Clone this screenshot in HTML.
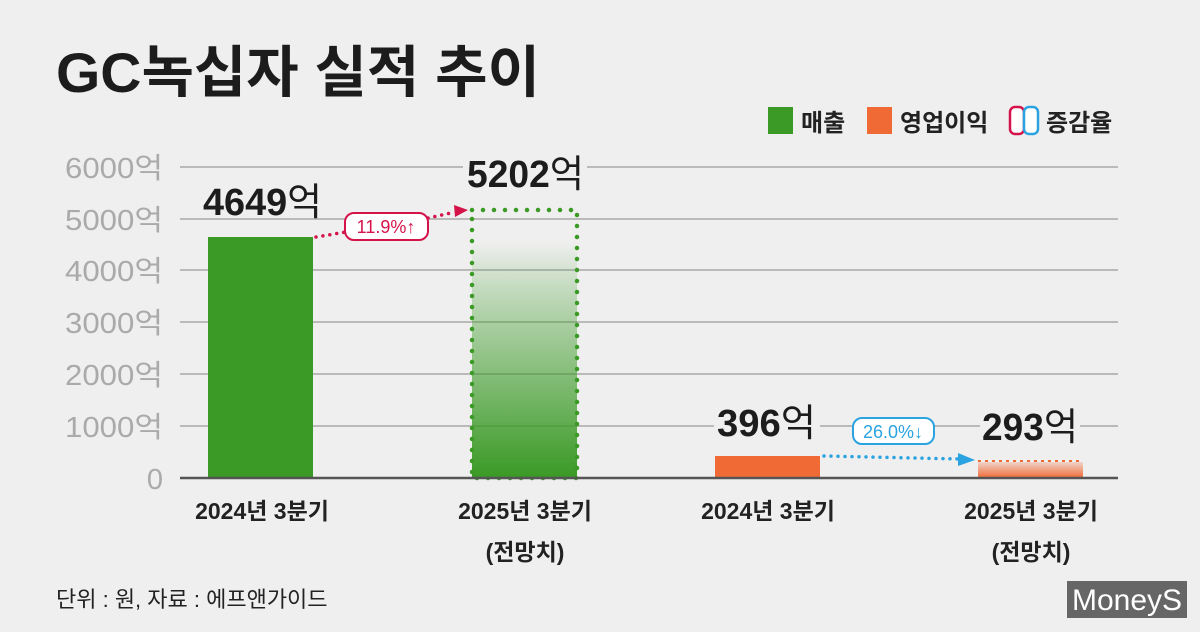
<!DOCTYPE html>
<html><head><meta charset="utf-8"><style>
html,body{margin:0;padding:0;background:#efefef;}
svg{display:block;font-family:"Liberation Sans","Noto Sans CJK KR",sans-serif;}
</style></head><body>
<svg width="1200" height="632" viewBox="0 0 1200 632">
<defs>
<linearGradient id="g1" x1="0" y1="0" x2="0" y2="1">
<stop offset="0" stop-color="#3a9a25" stop-opacity="0"/>
<stop offset="0.12" stop-color="#3a9a25" stop-opacity="0"/>
<stop offset="0.3" stop-color="#3a9a25" stop-opacity="0.25"/>
<stop offset="1" stop-color="#3a9a25" stop-opacity="1"/>
</linearGradient>
<linearGradient id="g2" x1="0" y1="0" x2="0" y2="1">
<stop offset="0" stop-color="#f06a35" stop-opacity="0.2"/>
<stop offset="1" stop-color="#f06a35" stop-opacity="1"/>
</linearGradient>
</defs>
<rect width="1200" height="632" fill="#efefef"/>
<text x="56" y="92" font-size="56" font-weight="bold" fill="#1c1c1c" textLength="484" lengthAdjust="spacingAndGlyphs">GC녹십자 실적 추이</text>
<!-- legend -->
<rect x="768" y="107" width="25" height="27" fill="#3a9a25"/>
<text x="801" y="131" font-size="24" font-weight="bold" fill="#222">매출</text>
<rect x="867" y="107" width="25" height="27" fill="#f06a35"/>
<text x="900" y="131" font-size="24" font-weight="bold" fill="#222">영업이익</text>
<rect x="1010" y="107" width="14" height="27" rx="5" fill="#fff" stroke="#d4134a" stroke-width="2.5"/>
<rect x="1024" y="107" width="14" height="27" rx="5" fill="#fff" stroke="#2aa3e0" stroke-width="2.5"/>
<text x="1046" y="131" font-size="24" font-weight="bold" fill="#222">증감율</text>
<!-- grid -->
<g stroke="#a8a8a8" stroke-width="1.5">
<line x1="180" y1="167" x2="1118" y2="167"/>
<line x1="180" y1="219" x2="1118" y2="219"/>
<line x1="180" y1="270" x2="1118" y2="270"/>
<line x1="180" y1="322" x2="1118" y2="322"/>
<line x1="180" y1="374" x2="1118" y2="374"/>
<line x1="180" y1="426" x2="1118" y2="426"/>
</g>
<g font-size="29" fill="#aaa" text-anchor="end">
<text x="163" y="178" textLength="98" lengthAdjust="spacingAndGlyphs">6000억</text>
<text x="163" y="230" textLength="98" lengthAdjust="spacingAndGlyphs">5000억</text>
<text x="163" y="281" textLength="98" lengthAdjust="spacingAndGlyphs">4000억</text>
<text x="163" y="333" textLength="98" lengthAdjust="spacingAndGlyphs">3000억</text>
<text x="163" y="385" textLength="98" lengthAdjust="spacingAndGlyphs">2000억</text>
<text x="163" y="437" textLength="98" lengthAdjust="spacingAndGlyphs">1000억</text>
<text x="163" y="489">0</text>
</g>
<!-- bars -->
<rect x="208" y="237" width="105" height="241" fill="#3a9a25"/>
<rect x="472" y="210" width="105" height="268" fill="url(#g1)"/>
<rect x="472" y="210" width="105" height="268" fill="none" stroke="#3a9a25" stroke-width="4.5" stroke-dasharray="0 11" stroke-linecap="round"/>
<rect x="715" y="456" width="105" height="22" fill="#f06a35"/>
<rect x="978" y="462" width="105" height="16" fill="url(#g2)"/>
<line x1="978" y1="461" x2="1083" y2="461" stroke="#f06a35" stroke-width="2" stroke-dasharray="3 4"/>
<line x1="180" y1="478" x2="1118" y2="478" stroke="#555" stroke-width="2.5"/>
<!-- arrows -->
<polyline points="316,237 346,232" fill="none" stroke="#d4134a" stroke-width="3.5" stroke-dasharray="0 7" stroke-linecap="round"/>
<polyline points="428,218 455,212" fill="none" stroke="#d4134a" stroke-width="3.5" stroke-dasharray="0 7" stroke-linecap="round"/>
<polygon points="454,205 468,210 455,217" fill="#d4134a"/>
<rect x="345" y="213" width="83" height="27" rx="9" fill="#fff" stroke="#d4134a" stroke-width="2"/>
<text x="386" y="233" font-size="18" fill="#d4134a" text-anchor="middle">11.9%↑</text>
<line x1="824" y1="456" x2="960" y2="459" stroke="#2aa3e0" stroke-width="3.5" stroke-dasharray="0 7" stroke-linecap="round"/>
<polygon points="958,453 975,460 958,466" fill="#2aa3e0"/>
<rect x="853" y="418" width="81" height="26" rx="9" fill="#fff" stroke="#2aa3e0" stroke-width="2"/>
<text x="893" y="438" font-size="18" fill="#2aa3e0" text-anchor="middle">26.0%↓</text>
<!-- value labels -->
<g font-size="38" font-weight="bold" fill="#1c1c1c">
<text x="203" y="215" textLength="119" lengthAdjust="spacingAndGlyphs">4649<tspan font-weight="normal">억</tspan></text>
<rect x="463" y="150" width="124" height="40" fill="#efefef"/>
<text x="467" y="187" textLength="117" lengthAdjust="spacingAndGlyphs">5202<tspan font-weight="normal">억</tspan></text>
<rect x="714" y="405" width="106" height="40" fill="#efefef"/>
<text x="717" y="436" textLength="99" lengthAdjust="spacingAndGlyphs">396<tspan font-weight="normal">억</tspan></text>
<rect x="980" y="405" width="100" height="40" fill="#efefef"/>
<text x="982" y="440" textLength="96" lengthAdjust="spacingAndGlyphs">293<tspan font-weight="normal">억</tspan></text>
</g>
<!-- x labels -->
<g font-size="23" font-weight="bold" fill="#222" text-anchor="middle">
<text x="262" y="519">2024년 3분기</text>
<text x="525" y="519">2025년 3분기</text>
<text x="525" y="560">(전망치)</text>
<text x="768" y="519">2024년 3분기</text>
<text x="1031" y="519">2025년 3분기</text>
<text x="1031" y="560">(전망치)</text>
</g>
<text x="56" y="607" font-size="22" fill="#222">단위 : 원,  자료 : 에프앤가이드</text>
<rect x="1067" y="581" width="120" height="37" fill="#666"/>
<text x="1127" y="610" font-size="30" fill="#fff" text-anchor="middle">MoneyS</text>
</svg>
</body></html>
